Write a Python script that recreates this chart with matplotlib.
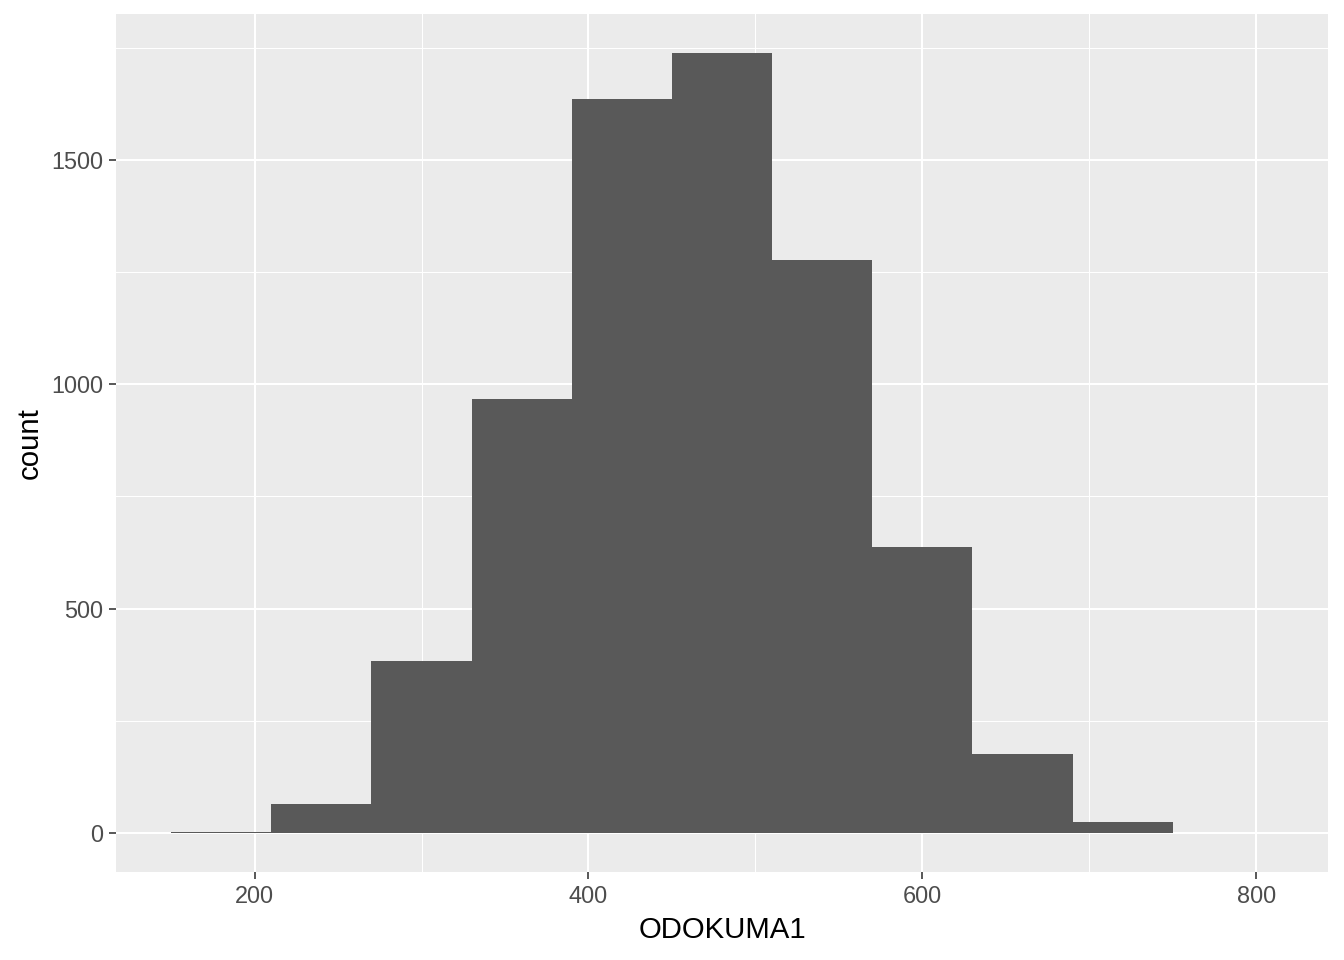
import matplotlib
matplotlib.use("Agg")
import matplotlib.pyplot as plt
import numpy as np

# Histogram data (bin width 60)
binEdges = [150, 210, 270, 330, 390, 450, 510, 570, 630, 690, 750, 810]
binCounts = [2, 64, 383, 966, 1635, 1738, 1277, 637, 176, 24, 0]

xMajor = [200, 400, 600, 800]
xMinor = [300, 500, 700]
yMajor = [0, 500, 1000, 1500]
yMinor = [250, 750, 1250, 1750]

plt.rcParams["font.family"] = ["Liberation Sans", "DejaVu Sans"]

fig = plt.figure(figsize=(7, 5), dpi=192)
ax = fig.add_axes([116 / 1344, 1 - 872 / 960, (1328 - 116) / 1344, (872 - 14) / 960])
ax.set_facecolor("#EBEBEB")

# Grid lines (ggplot theme_grey look)
for v in xMinor:
    ax.axvline(v, color="white", linewidth=0.4, zorder=0)
for v in yMinor:
    ax.axhline(v, color="white", linewidth=0.4, zorder=0)
for v in xMajor:
    ax.axvline(v, color="white", linewidth=0.75, zorder=0)
for v in yMajor:
    ax.axhline(v, color="white", linewidth=0.75, zorder=0)

# Bars
ax.hist(binEdges[:-1], bins=binEdges, weights=binCounts, color="#595959", zorder=2)

# Limits with 5% expansion like ggplot
xSpan = binEdges[-1] - binEdges[0]
ax.set_xlim(binEdges[0] - 0.05 * xSpan, binEdges[-1] + 0.05 * xSpan)
ySpan = max(binCounts)
ax.set_ylim(-0.05 * ySpan, ySpan * 1.05)

ax.set_xticks(xMajor)
ax.set_yticks(yMajor)
ax.tick_params(axis="both", length=2.75, width=0.6, color="#333333",
               labelcolor="#4D4D4D", labelsize=8.8, pad=2.2)
for s in ax.spines.values():
    s.set_visible(False)

ax.set_xlabel("ODOKUMA1", fontsize=11, color="black", labelpad=3)
ax.set_ylabel("count", fontsize=11, color="black", labelpad=2.5)

fig.savefig("out.png", dpi=192)
